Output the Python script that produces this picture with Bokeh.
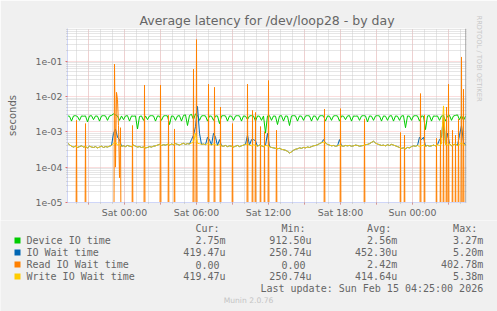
import numpy as np
from bokeh.plotting import figure
from bokeh.layouts import column
from bokeh.models import Range1d, FixedTicker, Span, Title
from bokeh.core.properties import value
from bokeh.embed import file_html
from bokeh.resources import INLINE

# ---------------- data ----------------
title = "Average latency for /dev/loop28 - by day"
y_label = "seconds"
x_tick_hours = [0, 6, 12, 18, 24]
x_tick_labels = ["Sat 00:00", "Sat 06:00", "Sat 12:00", "Sat 18:00", "Sun 00:00"]
y_tick_values = [1e-5, 1e-4, 1e-3, 1e-2, 1e-1]
y_tick_labels = ["1e-05", "1e-04", "1e-03", "1e-02", "1e-01"]

# 10-minute samples, starting Fri 19:15 (hours relative to Sat 00:00)
start_hour = -4.75
step_hour = 1.0 / 6.0

# Device IO time (milliseconds)
device_ms = [
    2.8, 2.75, 2.0, 2.8, 2.85, 2.7, 2.1, 2.8, 2.75, 2.8, 1.9, 2.8, 2.85, 2.2, 2.8, 2.75, 2.0, 2.8, 2.85, 2.8,
    2.1, 2.8, 2.9, 3.2, 3.0, 2.8, 2.1, 2.8, 2.2, 2.8, 2.85, 2.0, 2.8, 2.75, 2.8, 1.2, 2.7, 2.8, 2.1, 2.8,
    2.2, 2.8, 2.85, 2.8, 2.0, 2.8, 2.75, 2.1, 2.8, 2.85, 2.8, 1.6, 2.8, 2.75, 2.1, 2.8, 2.85, 2.0, 2.9, 3.0,
    1.5, 2.9, 3.1, 2.2, 3.2, 2.9, 2.1, 2.8, 2.85, 2.8, 2.0, 2.8, 2.75, 2.1, 2.8, 2.8, 1.7, 2.8, 2.85, 2.8,
    2.0, 2.8, 2.75, 2.1, 2.8, 2.85, 2.8, 2.0, 2.8, 2.75, 2.2, 2.8, 2.85, 2.8, 2.0, 2.8, 2.75, 2.1, 2.8, 0.9125,
    2.8, 2.85, 2.1, 2.8, 2.75, 1.6, 2.8, 2.85, 2.0, 2.8, 2.75, 1.5, 2.8, 2.85, 2.8, 2.0, 2.8, 2.75, 2.1, 2.8,
    2.85, 2.8, 2.0, 2.8, 2.75, 2.1, 2.8, 2.85, 2.8, 2.0, 2.8, 2.75, 2.1, 2.8, 2.85, 2.8, 2.0, 2.8, 2.75, 2.2,
    2.8, 2.85, 2.0, 2.8, 2.75, 2.8, 2.1, 2.8, 2.85, 2.8, 1.9, 2.8, 2.75, 2.1, 2.8, 2.85, 2.8, 2.0, 2.8, 2.75,
    2.1, 2.8, 2.85, 2.0, 2.8, 2.75, 2.1, 2.8, 2.85, 1.3, 2.8, 2.75, 2.1, 2.8, 2.85, 2.8, 2.0, 2.8, 2.75, 1.15,
    2.8, 2.85, 2.0, 2.8, 2.75, 2.8, 2.1, 2.8, 2.85, 2.0, 2.8, 2.9, 2.1, 2.8, 2.9, 3.0, 2.2, 2.9, 2.1, 2.75,
]

# Write IO Wait time (units of 1e-4 s)
write_e4 = [
    4.8, 4.3, 3.9, 3.7, 3.9, 3.6, 3.8, 4.0, 3.7, 3.8, 3.5, 3.9, 3.7, 3.6, 3.8, 3.5, 3.7, 3.9, 3.6, 3.8,
    3.7, 3.9, 4.1, 4.6, 5.0, 4.2, 4.4, 3.9, 4.0, 3.8, 4.1, 3.9, 3.8, 4.2, 3.9, 3.7, 3.8, 3.6, 3.7, 3.5,
    3.6, 3.8, 3.7, 3.9, 4.0, 4.2, 4.4, 4.1, 4.3, 4.2, 4.4, 4.2, 4.5, 4.3, 4.6, 4.4, 4.2, 4.5, 4.7, 4.4,
    4.6, 4.5, 4.8, 5.2, 9.0, 4.7, 4.6, 4.4, 4.5, 4.3, 4.6, 4.4, 4.2, 4.5, 4.3, 4.1, 4.4, 4.0, 3.9, 4.1,
    3.8, 4.0, 3.9, 3.7, 3.9, 4.1, 3.8, 4.0, 4.2, 4.4, 4.5, 4.2, 4.0, 4.3, 4.1, 3.9, 4.2, 4.0, 3.8, 4.1,
    4.0, 3.8, 3.6, 3.5, 3.4, 3.3, 3.4, 3.2, 3.1, 3.0, 2.8, 2.5074, 2.7, 3.0, 3.2, 3.3, 3.5, 3.4, 3.6, 3.5,
    3.7, 3.6, 3.8, 4.0, 4.1, 4.3, 4.6, 4.9, 5.1, 4.8, 4.4, 4.2, 4.0, 4.1, 3.9, 4.0, 4.2, 4.0, 3.9, 4.1,
    4.0, 4.1, 3.9, 4.0, 4.2, 4.1, 3.9, 4.0, 4.1, 4.3, 4.4, 4.6, 5.0, 5.4, 4.8, 4.5, 4.3, 4.1, 4.2, 4.0,
    4.3, 4.1, 4.4, 4.2, 4.0, 3.8, 3.6, 3.4, 3.5, 3.3, 3.6, 3.5, 3.8, 4.0, 3.9, 4.1, 3.8, 4.0, 4.2, 3.9,
    4.1, 3.9, 4.0, 4.2, 4.0, 4.3, 4.1, 4.5, 53.8, 4.4, 4.2, 4.6, 4.0, 4.3, 4.5, 4.1, 4.4, 4.8, 4.3, 4.1947,
]

# IO Wait time (units of 1e-4 s)
iowait_e4 = [
    4.8, 4.3, 3.9, 3.7, 3.9, 3.6, 3.8, 4.0, 3.7, 3.8, 3.5, 3.9, 3.7, 3.6, 3.8, 3.5, 3.7, 3.9, 3.6, 3.8,
    3.7, 3.9, 4.1, 9.0, 12.0, 7.0, 6.0, 3.9, 4.0, 3.8, 4.1, 3.9, 3.8, 4.2, 3.9, 3.7, 3.8, 3.6, 3.7, 3.5,
    3.6, 3.8, 3.7, 3.9, 4.0, 4.2, 4.4, 4.1, 4.3, 4.2, 4.4, 4.2, 4.5, 4.3, 4.6, 4.4, 4.2, 4.5, 4.7, 4.4,
    4.6, 4.5, 6.0, 8.0, 14.0, 52.0, 9.0, 4.4, 4.5, 4.3, 7.0, 6.0, 4.2, 9.0, 7.0, 4.1, 6.0, 4.0, 3.9, 4.1,
    3.8, 4.0, 3.9, 3.7, 3.9, 4.1, 3.8, 4.0, 4.2, 4.4, 8.0, 4.2, 6.0, 6.0, 5.5, 3.9, 4.2, 4.0, 3.8, 4.1,
    9.0, 3.8, 3.6, 3.5, 3.4, 3.3, 3.4, 3.2, 3.1, 3.0, 2.8, 2.5074, 2.7, 3.0, 3.2, 3.3, 3.5, 3.4, 3.6, 3.5,
    3.7, 3.6, 3.8, 4.0, 4.1, 4.3, 4.6, 4.9, 6.0, 4.8, 4.4, 4.2, 4.0, 4.1, 3.9, 4.0, 6.0, 4.0, 3.9, 4.1,
    4.0, 4.1, 3.9, 4.0, 4.2, 4.1, 3.9, 4.0, 4.1, 4.3, 4.4, 4.6, 5.0, 5.4, 4.8, 4.5, 4.3, 4.1, 4.2, 4.0,
    4.3, 4.1, 4.4, 4.2, 4.0, 3.8, 3.6, 3.4, 3.5, 3.3, 3.6, 3.5, 3.8, 4.0, 3.9, 4.1, 7.0, 6.0, 7.0, 3.9,
    4.1, 3.9, 4.0, 4.2, 4.0, 4.3, 6.0, 7.0, 30.0, 4.4, 9.0, 4.6, 4.0, 4.3, 4.5, 4.1, 8.0, 15.0, 5.0, 4.1947,
]

# Read IO Wait time: 5-minute samples, zero except these (minutes from Sat 00:00, seconds)
read_span_min = (-285, 1710)
read_spike_min = [-240, -195, -50, -45, -40, -35, -30, -25, -20, 40, 100, 180, 220, 250, 345, 360,
                  420, 450, 480, 540, 615, 640, 655, 680, 700, 720, 760, 1000, 1080, 1200, 1380, 1400,
                  1480, 1500, 1560, 1580, 1595, 1610, 1620, 1640, 1655, 1670, 1685, 1695]
read_spike_val = [2.1e-3, 1.7e-3, 8.2e-2, 1e-4, 1.3e-2, 8e-3, 1.5e-3, 5e-5, 1.3e-3, 1.5e-3, 2.1e-2, 2.1e-2,
                  2.9e-3, 1.2e-3, 5.9e-2, 0.40278, 2.2e-2, 1.8e-2, 5e-3, 1.7e-3, 2.2e-2, 4e-3, 3.5e-3, 1.4e-3,
                  1e-3, 2.8e-2, 1.1e-3, 4.4e-3, 4.5e-3, 2.3e-3, 9.5e-4, 8e-4, 1.2e-2, 3e-3, 6.5e-4, 1.1e-3,
                  2.5e-3, 5e-3, 2.2e-2, 1.1e-3, 8e-4, 2.3e-3, 0.13, 1.6e-2]

legend_names = ["Device IO time", "IO Wait time", "Read IO Wait time", "Write IO Wait time"]
legend_colors = ["#00CC00", "#0066B3", "#FF8000", "#FFCC00"]
legend_heads = ["Cur:", "Min:", "Avg:", "Max:"]
legend_cur = ["2.75m", "419.47u", "0.00", "419.47u"]
legend_min = ["912.50u", "250.74u", "0.00", "250.74u"]
legend_avg = ["2.56m", "452.30u", "2.42m", "414.64u"]
legend_max = ["3.27m", "5.20m", "402.78m", "5.38m"]
last_update = "Last update: Sun Feb 15 04:25:00 2026"
footer = "Munin 2.0.76"
side_text = "RRDTOOL / TOBI OETIKER"

# ---------------- build ----------------
n = len(device_ms)
t10 = start_hour + step_hour * np.arange(n)
device = np.array(device_ms) * 1e-3
write = np.array(write_e4) * 1e-4
iowait = np.array(iowait_e4) * 1e-4

rmins = np.arange(read_span_min[0], read_span_min[1] + 1, 5)
read = np.zeros(len(rmins))
for m, v in zip(read_spike_min, read_spike_val):
    read[np.where(rmins == m)[0][0]] = v
t5 = rmins / 60.0
read_plot = np.where(read > 0, read, 1e-9)

W = 497
H1, H2 = 220, 91
FL, FR, FT, FB = 67, 466, 28, 203

BG = "#F0F0F0"
GRID_MAJOR = "#F6BCBC"
GRID_MINOR = "#CDCDCD"
AXIS = "#CFD6F8"
FONT = "#666666"
SANS = "DejaVu Sans"
MONO = "DejaVu Sans Mono"

p = figure(width=W, height=H1, output_backend="svg", toolbar_location=None,
           y_axis_type="log", x_range=Range1d(-4.75, 28.5), y_range=Range1d(1e-5, 0.83),
           min_border_left=FL, min_border_right=W - FR, min_border_top=FT, min_border_bottom=H1 - FB,
           background_fill_color="#FFFFFF", border_fill_color=BG, outline_line_color=None)
p.frame_align = False

p.title.text = title
p.title.align = "center"
p.title.text_font = SANS
p.title.text_font_size = "12.5px"
p.title.text_font_style = "normal"
p.title.text_color = FONT
p.title.standoff = 2

p.add_layout(Title(text=side_text, align="left", text_font=SANS, text_font_size="6.7px",
                   text_font_style="normal", text_color="#C8C8C8", standoff=17, offset=-13), "right")

xa = p.xaxis[0]
xa.ticker = FixedTicker(ticks=list(range(-3, 28, 3)), minor_ticks=list(range(-4, 29)))
xa.major_label_overrides = {t: (x_tick_labels[x_tick_hours.index(t)] if t in x_tick_hours else "")
                            for t in range(-3, 28, 3)}
ya = p.yaxis[0]
minor_y = [k * 10.0 ** d for d in range(-5, 0) for k in range(2, 10)]
ya.ticker = FixedTicker(ticks=y_tick_values, minor_ticks=minor_y)
ya.major_label_overrides = {v: s for v, s in zip(y_tick_values, y_tick_labels)}
ya.axis_label = y_label
ya.axis_label_text_font = SANS
ya.axis_label_text_font_size = "10px"
ya.axis_label_text_font_style = "normal"
ya.axis_label_text_color = FONT
ya.axis_label_standoff = 14

for ax in (xa, ya):
    ax.axis_line_color = AXIS
    ax.major_tick_line_color = "#E07070"
    ax.minor_tick_line_color = "#BBBBBB"
    ax.major_tick_out = 2
    ax.major_tick_in = 0
    ax.minor_tick_out = 1
    ax.minor_tick_in = 0
    ax.major_label_text_font = SANS
    ax.major_label_text_font_size = "9.4px"
    ax.major_label_text_color = FONT
xa.major_label_standoff = 2
ya.major_label_standoff = 3

for g in (p.xgrid[0], p.ygrid[0]):
    g.grid_line_color = GRID_MAJOR
    g.grid_line_dash = "1 1"
    g.minor_grid_line_color = GRID_MINOR
    g.minor_grid_line_dash = "1 1"

p.line(t10, device, line_color=legend_colors[0], line_width=1)
p.line(t10, iowait, line_color=legend_colors[1], line_width=1)
p.line(t5, read_plot, line_color=legend_colors[2], line_width=1)
p.line(t10, write, line_color=legend_colors[3], line_width=1)

p.add_layout(Span(location=28.45, dimension="height", line_color="#8C8C8C", line_width=1))

# ---------------- legend panel (pixel coordinates, y downward) ----------------
q = figure(width=W, height=H2, output_backend="svg", toolbar_location=None,
           x_range=Range1d(0, W), y_range=Range1d(H1 + H2, H1),
           x_axis_type=None, y_axis_type=None,
           min_border_left=0, min_border_right=0, min_border_top=0, min_border_bottom=0,
           background_fill_color=BG, border_fill_color=BG, outline_line_color=None)
q.frame_align = False
q.xgrid.visible = False
q.ygrid.visible = False

col_right = [225, 311, 396.7, 482.7]
CW = 6.0
row_y = [240 + 12 * i for i in range(len(legend_names))]

tx, ty, tt, ta = [], [], [], []
for h, r in zip(legend_heads, col_right):
    tx.append(r - CW); ty.append(228); tt.append(h); ta.append("right")
for i, name in enumerate(legend_names):
    tx.append(26); ty.append(row_y[i]); tt.append(name); ta.append("left")
    for vals, r in zip((legend_cur, legend_min, legend_avg, legend_max), col_right):
        s = vals[i]
        tx.append(r if s[-1] in "mu" else r - CW); ty.append(row_y[i]); tt.append(s); ta.append("right")
tx.append(col_right[-1]); ty.append(288); tt.append(last_update); ta.append("right")

q.text(x=tx, y=ty, text=tt, text_align=ta, text_baseline="middle", text_font=value(MONO),
       text_font_size="10px", text_color=FONT)
q.text(x=[248], y=[300], text=[footer], text_align="center", text_baseline="middle",
       text_font=value(SANS), text_font_size="7.6px", text_color="#C4C4C4")
q.quad(left=[14] * 4, right=[20] * 4, top=[y - 3 for y in row_y], bottom=[y + 3 for y in row_y],
       fill_color=legend_colors, line_color=None)

layout = column(p, q, spacing=0)
open("out.html", "w").write(file_html(layout, INLINE))
